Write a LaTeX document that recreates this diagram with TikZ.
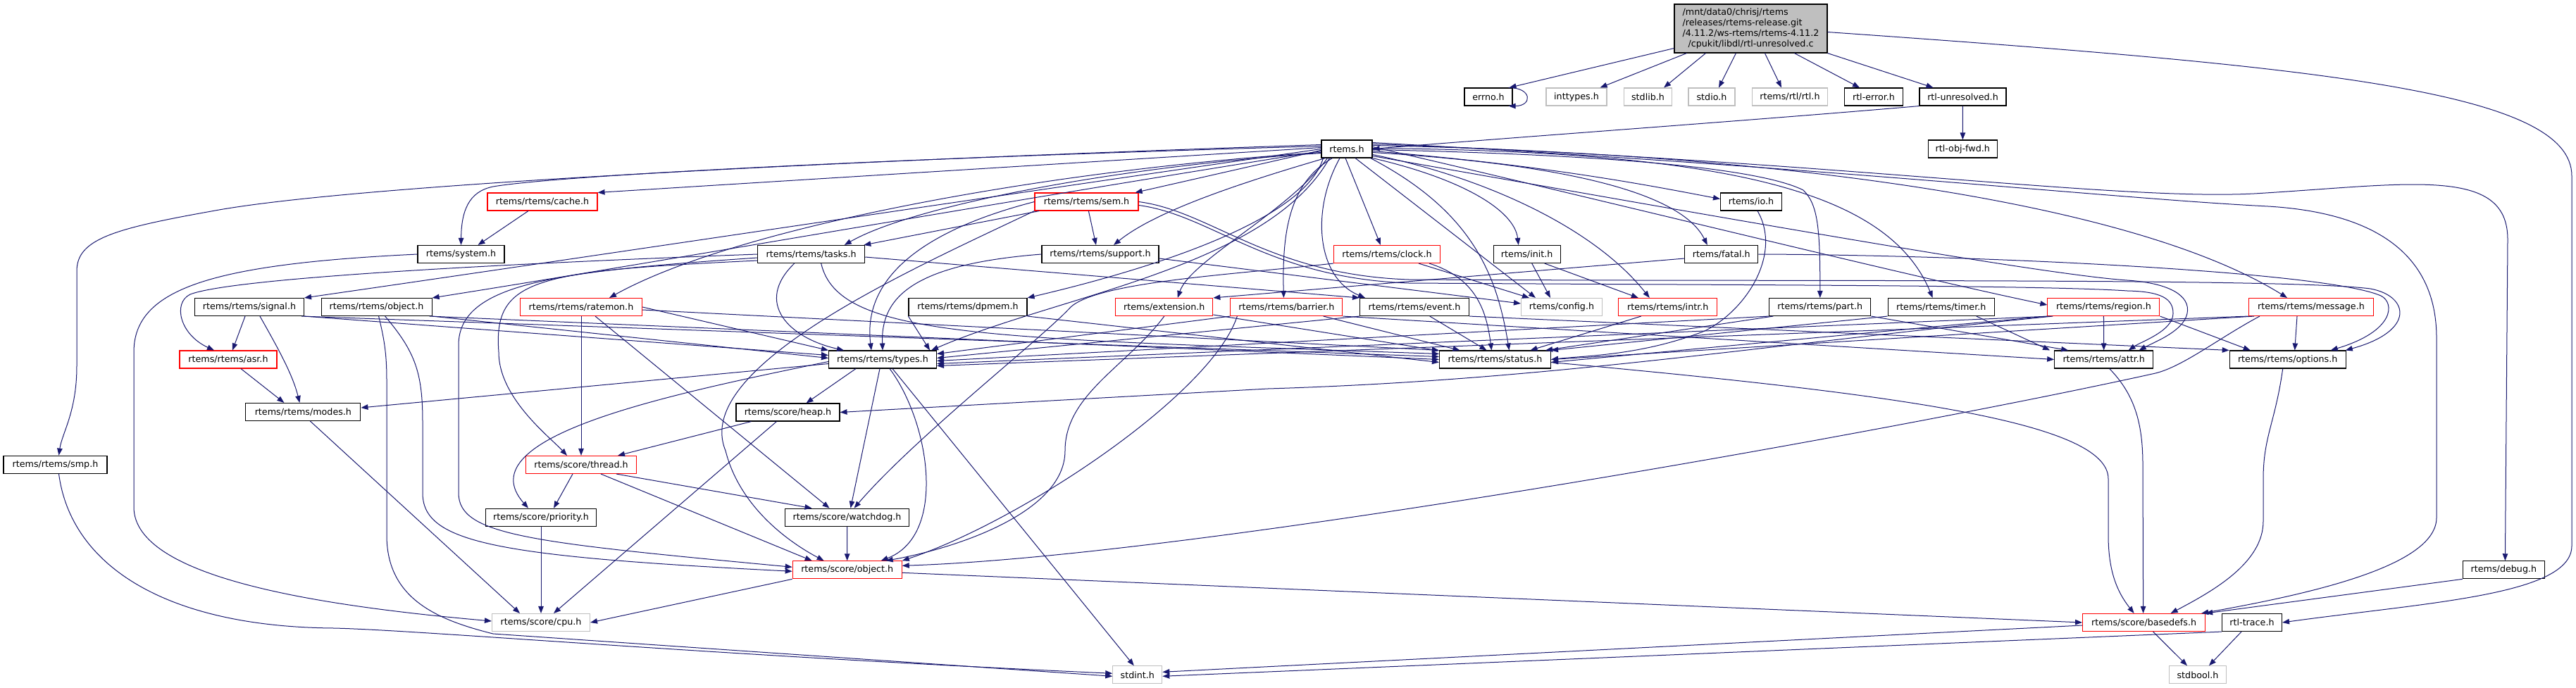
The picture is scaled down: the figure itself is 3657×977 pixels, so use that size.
\documentclass[tikz,border=0pt]{standalone}
\usepackage{fontspec}
\setmainfont{DejaVu Sans}
\usetikzlibrary{arrows.meta}
\definecolor{edgecol}{HTML}{191970}
\definecolor{boxgray}{HTML}{BFBFBF}
\newcommand\nodefont{\fontsize{12.7}{15}\selectfont}
\begin{document}
\begin{tikzpicture}[x=1pt,y=-1pt,
  nb/.style={draw, line width=1.1pt, minimum height=25pt, inner sep=0pt, font=\nodefont, text=black},
  blk/.style={nb, draw=black},
  rd/.style={nb, draw=red},
  gry/.style={nb, draw=boxgray},
  rootbox/.style={nb, draw=black, fill=boxgray, minimum height=69pt},
  edge/.style={draw=edgecol, line width=1pt, -{Triangle[length=10pt,width=7.5pt]}}]
\fill[white] (0,0) rectangle (3657,977);
\useasboundingbox (0,0) rectangle (3657,977);
% ---------------- nodes
\node[rootbox, minimum width=217pt] (root) at (2485.5,40.5) {\begin{tabular}{@{}l@{}}/mnt/data0/chrisj/rtems\\/releases/rtems-release.git\\/4.11.2/ws-rtems/rtems-4.11.2\\\multicolumn{1}{@{}c@{}}{/cpukit/libdl/rtl-unresolved.c}\end{tabular}};
\node[blk, minimum width=68pt] (errno) at (2113,137.5) {errno.h};
\node[gry, minimum width=86pt] (inttypes) at (2238,137.5) {inttypes.h};
\node[gry, minimum width=68pt] (stdlib) at (2339.5,137.5) {stdlib.h};
\node[gry, minimum width=66pt] (stdio) at (2430,137.5) {stdio.h};
\node[gry, minimum width=107pt] (rtl) at (2541,137.5) {rtems/rtl/rtl.h};
\node[blk, minimum width=83pt] (rtlerror) at (2660,137.5) {rtl-error.h};
\node[blk, minimum width=123pt] (rtlunres) at (2786.5,137.5) {rtl-unresolved.h};
\node[blk, minimum width=72pt] (rtems) at (1912,211.5) {rtems.h};
\node[blk, minimum width=98pt] (objfwd) at (2786.3,211.5) {rtl-obj-fwd.h};
\node[rd, minimum width=156pt] (cache) at (770,286.5) {rtems/rtems/cache.h};
\node[rd, minimum width=147pt] (sem) at (1542.5,286.5) {rtems/rtems/sem.h};
\node[blk, minimum width=87pt] (io) at (2486,286.5) {rtems/io.h};
\node[blk, minimum width=123pt] (system) at (654.5,361) {rtems/system.h};
\node[blk, minimum width=152pt] (tasks) at (1151.7,361) {rtems/rtems/tasks.h};
\node[blk, minimum width=166pt] (support) at (1562,361) {rtems/rtems/support.h};
\node[rd, minimum width=151pt] (clock) at (1969,361) {rtems/rtems/clock.h};
\node[blk, minimum width=95pt] (init) at (2167.7,361) {rtems/init.h};
\node[blk, minimum width=104pt] (fatal) at (2443.8,361) {rtems/fatal.h};
\node[blk, minimum width=155pt] (signal) at (354,436) {rtems/rtems/signal.h};
\node[blk, minimum width=157pt] (object) at (534.6,436) {rtems/rtems/object.h};
\node[rd, minimum width=173pt] (ratemon) at (825,436) {rtems/rtems/ratemon.h};
\node[blk, minimum width=168pt] (dpmem) at (1374,436) {rtems/rtems/dpmem.h};
\node[rd, minimum width=138pt] (extension) at (1652.8,436) {rtems/extension.h};
\node[rd, minimum width=159pt] (barrier) at (1826.4,436) {rtems/rtems/barrier.h};
\node[blk, minimum width=155pt] (event) at (2008,436) {rtems/rtems/event.h};
\node[gry, minimum width=115pt] (config) at (2217,436) {rtems/config.h};
\node[rd, minimum width=140pt] (intr) at (2367.8,436) {rtems/rtems/intr.h};
\node[blk, minimum width=144pt] (part) at (2583.8,436) {rtems/rtems/part.h};
\node[blk, minimum width=151pt] (timer) at (2755.7,436) {rtems/rtems/timer.h};
\node[rd, minimum width=159pt] (region) at (2986.4,436) {rtems/rtems/region.h};
\node[rd, minimum width=177pt] (message) at (3281,436) {rtems/rtems/message.h};
\node[rd, minimum width=138pt] (asr) at (324,510.5) {rtems/rtems/asr.h};
\node[blk, minimum width=153pt] (types) at (1253,510.5) {rtems/rtems/types.h};
\node[blk, minimum width=158pt] (status) at (2122.5,510.5) {rtems/rtems/status.h};
\node[blk, minimum width=140pt] (attr) at (2986.7,510.5) {rtems/rtems/attr.h};
\node[blk, minimum width=165pt] (options) at (3247.7,510.5) {rtems/rtems/options.h};
\node[blk, minimum width=163pt] (modes) at (430.4,585) {rtems/rtems/modes.h};
\node[blk, minimum width=147pt] (heap) at (1118.5,585.5) {rtems/score/heap.h};
\node[blk, minimum width=147pt] (smp) at (78.5,659.7) {rtems/rtems/smp.h};
\node[rd, minimum width=157pt] (thread) at (825,660) {rtems/score/thread.h};
\node[blk, minimum width=157pt] (priority) at (768,734.7) {rtems/score/priority.h};
\node[blk, minimum width=176pt] (watchdog) at (1202.5,734.7) {rtems/score/watchdog.h};
\node[rd, minimum width=155pt] (sobject) at (1202.7,809.3) {rtems/score/object.h};
\node[blk, minimum width=116pt] (debug) at (3554.4,809.3) {rtems/debug.h};
\node[gry, minimum width=139pt] (cpu) at (768,884) {rtems/score/cpu.h};
\node[rd, minimum width=174pt] (basedefs) at (3043.6,884) {rtems/score/basedefs.h};
\node[blk, minimum width=85pt] (rtltrace) at (3197,884) {rtl-trace.h};
\node[gry, minimum width=70pt] (stdint) at (1614.8,958.3) {stdint.h};
\node[gry, minimum width=81pt] (stdbool) at (3120,958.3) {stdbool.h};
% ---------------- root
\draw[edge] ([yshift=7pt]root.south west) -- ([xshift=-5pt]errno.north east);
\draw[edge] ([xshift=18pt]root.south west) -- ([xshift=-10pt]inttypes.north east);
\draw[edge] ([xshift=45pt]root.south west) -- ([xshift=-12pt]stdlib.north east);
\draw[edge] ([xshift=88pt]root.south west) -- ([xshift=10pt]stdio.north);
\draw[edge] ([xshift=129pt]root.south west) -- ([xshift=-12pt]rtl.north);
\draw[edge] ([xshift=171pt]root.south west) -- ([xshift=-20pt]rtlerror.north);
\draw[edge] (root.south east) -- ([xshift=-42pt]rtlunres.north);
\draw[edge] ([yshift=-5pt]root.east) .. controls (3300,95) and (3651,130) .. (3651,250) -- (3651,775) .. controls (3651,845) and (3450,855) .. (rtltrace.east);
\draw[edge] ([xshift=-6pt]errno.north east) .. controls +(34,0) and +(34,0) .. ([xshift=-6pt]errno.south east);
\draw[edge] (rtlunres.south west) .. controls (2500,170) and (2150,195) .. (rtems.east);
\draw[edge] (rtlunres) -- (objfwd);
% ---------------- rtems.h
\draw[edge] ([yshift=6pt]rtems.west) .. controls (1200,228) and (500,262) .. (300,300) .. controls (160,325) and (109,340) .. (109,385) -- (109,520) .. controls (109,585) and (88,615) .. ([xshift=5pt]smp.north);
\draw[edge] ([yshift=4pt]rtems.west) .. controls (1300,224) and (800,248) .. (700,265) .. controls (665,272) and (655,300) .. (system.north);
\draw[edge] ([yshift=2pt]rtems.west) -- (cache.north east);
\draw[edge] ([yshift=-2pt]rtems.west) -- ([xshift=-5pt]sem.north east);
\draw[edge] ([yshift=-6pt]rtems.west) .. controls (1600,235) and (1300,290) .. ([xshift=47pt]tasks.north);
\draw[edge] (rtems.west) .. controls (1400,280) and (800,370) .. (signal.north east);
\draw[edge] ([yshift=-3pt]rtems.west) .. controls (1400,290) and (900,378) .. (object.north east);
\draw[edge] ([yshift=-5pt]rtems.west) .. controls (1500,240) and (1050,320) .. ([xshift=40pt]ratemon.north);
\draw[edge] ([xshift=6pt]rtems.south west) .. controls (1760,260) and (1640,300) .. ([xshift=19pt]support.north);
\draw[edge] ([xshift=3pt]rtems.south west) .. controls (1850,320) and (1600,390) .. (dpmem.north east);
\draw[edge] ([xshift=9pt]rtems.south west) .. controls (1830,300) and (1690,370) .. ([xshift=19pt]extension.north);
\draw[edge] ([xshift=12pt]rtems.south west) .. controls (1800,380) and (1500,420) .. ([xshift=-8pt]types.north east);
\draw[edge] ([xshift=16pt]rtems.south west) .. controls (1830,260) and (1820,330) .. ([xshift=-4pt]barrier.north);
\draw[edge] ([xshift=-10pt]rtems.south) .. controls (1860,300) and (1870,395) .. ([xshift=-70pt]event.north);
\draw[edge] ([xshift=-2pt]rtems.south) -- ([xshift=-9pt]clock.north);
\draw[edge] ([xshift=12pt]rtems.south) -- ([xshift=-37pt]config.north);
\draw[edge] ([xshift=-3pt]rtems.south east) .. controls (2090,300) and (2125,390) .. ([xshift=20pt]status.north);
\draw[edge] (rtems.south east) .. controls (2080,255) and (2150,300) .. ([xshift=-12pt]init.north);
\draw[edge] ([yshift=-8pt]rtems.east) .. controls (2100,250) and (2260,320) .. ([xshift=-26pt]intr.north);
\draw[edge] ([yshift=-5pt]rtems.east) .. controls (2250,235) and (2390,280) .. ([xshift=-20pt]fatal.north);
\draw[edge] ([yshift=-3pt]rtems.east) .. controls (2200,235) and (2350,265) .. ([yshift=4pt]io.west);
\draw[edge] ([yshift=-1pt]rtems.east) .. controls (2300,220) and (2500,240) .. (2560,270) .. controls (2580,290) and (2584,320) .. (part.north);
\draw[edge] ([yshift=1pt]rtems.east) .. controls (2450,215) and (2680,270) .. ([xshift=-12pt]timer.north);
\draw[edge] ([yshift=3pt]rtems.east) .. controls (2300,290) and (2700,390) .. ([yshift=3pt]region.west);
\draw[edge] ([yshift=5pt]rtems.east) .. controls (2600,220) and (3050,300) .. ([xshift=-34pt]message.north);
\draw[edge] ([yshift=7pt]rtems.east) .. controls (2600,228) and (3000,285) .. (3200,275) .. controls (3420,262) and (3560,235) .. (3560,340) -- ([xshift=2pt]debug.north);
\draw[edge] ([yshift=9pt]rtems.east) .. controls (2600,238) and (3000,282) .. (3220,293) .. controls (3420,305) and (3459,400) .. (3459,480) -- (3459,735) .. controls (3459,800) and (3300,840) .. ([xshift=-6pt]basedefs.north east);
\draw[edge] ([yshift=-10pt]rtems.east) .. controls (2450,310) and (2900,390) .. (3020,398) .. controls (3080,402) and (3110,420) .. (3105,445) .. controls (3100,470) and (3060,485) .. ([xshift=50pt]attr.north);
% ---------------- sem.h
\draw[edge] (sem) -- ([xshift=-2pt]tasks.north east);
\draw[edge] (sem) -- ([xshift=-6pt]support.north);
\draw[edge] (sem.west) .. controls (1300,330) and (1225,400) .. ([xshift=-16pt]types.north);
\draw[edge] (sem.south west) .. controls (1300,380) and (980,520) .. (1030,640) .. controls (1050,720) and (1120,770) .. ([xshift=-33pt]sobject.north);
\draw[edge] (sem.east) .. controls (1720,300) and (1800,390) .. (2000,397) .. controls (2600,400) and (3250,395) .. (3365,410) .. controls (3420,420) and (3430,470) .. ([xshift=-1pt]options.north east);
\draw[edge] ([yshift=-5pt]sem.east) .. controls (1720,305) and (1800,395) .. (2000,402) .. controls (2500,405) and (2900,405) .. (3020,413) .. controls (3070,414) and (3085,425) .. (3085,445) .. controls (3085,470) and (3040,485) .. ([xshift=35pt]attr.north);
% ---------------- support, tasks, cache, system
\draw[edge] (support.west) .. controls (1300,375) and (1250,420) .. (types.north);
\draw[edge] ([yshift=-6pt]support.east) -- ([yshift=5pt]config.west);
\draw[edge] (tasks.west) .. controls (700,375) and (330,395) .. (270,418) .. controls (245,430) and (255,475) .. ([xshift=-20pt]asr.north);
\draw[edge] ([xshift=-24pt]tasks.south) .. controls (1070,430) and (1120,480) .. ([xshift=-55pt]types.north);
\draw[edge] ([xshift=14pt]tasks.south) .. controls (1190,480) and (1400,480) .. ([yshift=8pt]status.west);
\draw[edge] ([yshift=-5pt]tasks.west) .. controls (800,385) and (651,400) .. (651,490) -- (651,700) .. controls (651,760) and (750,770) .. ([yshift=4pt]sobject.west);
\draw[edge] ([yshift=-9pt]tasks.west) .. controls (760,385) and (700,395) .. (708,500) .. controls (708,565) and (780,620) .. ([xshift=-20pt]thread.north);
\draw[edge] ([yshift=-4pt]tasks.east) -- (event.north west);
\draw[edge] ([xshift=-20pt]cache.south) -- ([xshift=24pt]system.north);
\draw[edge] (system.west) .. controls (300,375) and (190,410) .. (190,500) -- (190,720) .. controls (190,820) and (450,860) .. ([yshift=2pt]cpu.west);
% ---------------- row 5
\draw[edge] ([xshift=-6pt]signal.south) -- ([xshift=6pt]asr.north);
\draw[edge] ([xshift=15pt]signal.south) .. controls (392,490) and (415,530) .. ([xshift=-5pt]modes.north);
\draw[edge] (signal.south east) -- ([yshift=6pt]types.west);
\draw[edge] ([xshift=-4pt]signal.south east) -- ([yshift=4pt]status.west);
\draw[edge] (object.south east) -- ([yshift=2pt]types.west);
\draw[edge] ([xshift=-4pt]object.south east) -- (status.west);
\draw[edge] ([xshift=12pt]object.south) .. controls (590,500) and (600,530) .. (600,600) -- (600,700) .. controls (600,770) and (700,790) .. ([yshift=-2pt]sobject.west);
\draw[edge] ([xshift=3pt]object.south) .. controls (545,480) and (549,500) .. (549,540) -- (549,760) .. controls (549,850) and (620,880) .. (700,900) -- ([yshift=-2pt]stdint.west);
\draw[edge] (ratemon) -- (thread);
\draw[edge] ([xshift=20pt]ratemon.south) -- ([xshift=-25pt]watchdog.north);
\draw[edge] (ratemon.east) -- (types.north west);
\draw[edge] ([yshift=-4pt]ratemon.east) -- (status.north west);
\draw[edge] (dpmem.south west) -- ([xshift=-10pt]types.north east);
\draw[edge] (dpmem.south east) -- ([yshift=-4pt]status.west);
\draw[edge] (extension) -- (status);
\draw[edge] (extension.south) .. controls (1600,520) and (1512,560) .. (1512,640) .. controls (1512,730) and (1350,780) .. ([xshift=55pt]sobject.north);
\draw[edge] (barrier.south west) -- ([yshift=8pt]types.east);
\draw[edge] (barrier) -- ([xshift=-50pt]status.north);
\draw[edge] (barrier.south east) -- (attr.west);
\draw[edge] ([xshift=10pt]barrier.south west) .. controls (1720,560) and (1450,740) .. (sobject.north east);
\draw[edge] (event.south west) -- ([yshift=2pt]types.east);
\draw[edge] (event) -- ([xshift=-12pt]status.north);
\draw[edge] (event.south east) -- (options.north west);
\draw[edge] ([xshift=45pt]clock.south) -- ([xshift=-46pt]config.north);
\draw[edge] ([xshift=60pt]clock.south) .. controls (2095,395) and (2110,440) .. ([xshift=-5pt]status.north);
\draw[edge] (clock.south west) .. controls (1750,390) and (1560,400) .. (1520,436) .. controls (1480,480) and (1300,620) .. ([xshift=10pt]watchdog.north);
\draw[edge] (init) -- ([xshift=-16pt]config.north);
\draw[edge] ([xshift=25pt]init.south) -- ([xshift=-42pt]intr.north);
\draw[edge] ([xshift=-38pt]intr.south) -- ([xshift=50pt]status.north);
\draw[edge] ([xshift=9pt]io.south) .. controls (2530,360) and (2480,440) .. (2420,470) .. controls (2330,505) and (2250,505) .. (status.east);
\draw[edge] ([yshift=-6pt]fatal.west) -- (extension.north east);
\draw[edge] (fatal.east) .. controls (2800,362) and (3300,385) .. (3380,420) .. controls (3400,430) and (3400,470) .. ([xshift=-22pt]options.north east);
\draw[edge] (part.south west) -- ([yshift=-2pt]types.east);
\draw[edge] ([xshift=6pt]part.south west) -- ([xshift=-8pt]status.north east);
\draw[edge] (part.south east) -- ([xshift=20pt]attr.north west);
\draw[edge] (timer.south west) -- (status.north east);
\draw[edge] ([xshift=50pt]timer.south) -- ([xshift=-6pt]attr.north west);
\draw[edge] (region) -- (attr);
\draw[edge] ([xshift=4pt]region.south west) -- ([yshift=-6pt]types.east);
\draw[edge] (region.south west) -- ([yshift=-4pt]status.east);
\draw[edge] (region.south east) -- ([xshift=30pt]options.north west);
\draw[edge] ([xshift=8pt]region.south west) .. controls (2500,490) and (2200,540) .. (1800,552) -- (heap.east);
\draw[edge] ([xshift=-20pt]message.south) -- ([xshift=10pt]options.north);
\draw[edge] (message.south west) -- ([yshift=-9pt]types.east);
\draw[edge] ([xshift=8pt]message.south west) -- (status.east);
\draw[edge] ([xshift=16pt]message.south west) .. controls (3150,480) and (3100,520) .. (3060,530) .. controls (2700,610) and (1700,790) .. ([yshift=6pt]sobject.east);
% ---------------- lower part
\draw[edge] ([xshift=18pt]asr.south) -- ([xshift=-27pt]modes.north);
\draw[edge] ([yshift=-6pt]types.west) -- ([yshift=6pt]modes.east);
\draw[edge] ([xshift=-38pt]types.south) -- ([xshift=26pt]heap.north);
\draw[edge] ([yshift=-3pt]types.west) .. controls (950,560) and (660,620) .. ([xshift=-18pt]priority.north);
\draw[edge] ([xshift=-4pt]types.south) -- ([xshift=5pt]watchdog.north);
\draw[edge] ([xshift=10pt]types.south) .. controls (1320,600) and (1345,760) .. ([xshift=48pt]sobject.north);
\draw[edge] ([xshift=14pt]types.south) -- ([xshift=-5pt]stdint.north);
\draw[edge] ([yshift=-4pt]status.east) .. controls (2700,560) and (2993,600) .. (2993,680) -- (2993,760) .. controls (2993,810) and (3005,840) .. ([xshift=-14pt]basedefs.north);
\draw[edge] ([xshift=8pt]attr.south) .. controls (3030,560) and (3042,600) .. (3042,660) -- ([xshift=-1pt]basedefs.north);
\draw[edge] ([xshift=-7pt]options.south) .. controls (3230,600) and (3213,620) .. (3213,680) -- (3213,740) .. controls (3213,800) and (3140,840) .. ([xshift=38pt]basedefs.north);
\draw[edge] ([xshift=10pt]modes.south) -- ([xshift=-30pt]cpu.north);
\draw[edge] ([xshift=-52pt]heap.south) -- ([xshift=52pt]thread.north);
\draw[edge] ([xshift=-16pt]heap.south) -- ([xshift=18pt]cpu.north);
\draw[edge] ([xshift=-12pt]thread.south) -- ([xshift=18pt]priority.north);
\draw[edge] ([xshift=50pt]thread.south) -- ([xshift=-50pt]watchdog.north);
\draw[edge] ([xshift=28pt]thread.south) -- ([xshift=-50pt]sobject.north);
\draw[edge] (priority) -- (cpu);
\draw[edge] (watchdog) -- (sobject);
\draw[edge] (sobject.south west) -- (cpu.east);
\draw[edge] ([yshift=-4pt]sobject.east) -- (basedefs.west);
\draw[edge] (debug.south west) -- (basedefs.north east);
\draw[edge] (rtltrace.south west) -- ([yshift=-2pt]stdint.east);
\draw[edge] ([xshift=-15pt]rtltrace.south) -- ([xshift=16pt]stdbool.north);
\draw[edge] ([yshift=-4pt]basedefs.west) -- ([yshift=4pt]stdint.east);
\draw[edge] ([xshift=13pt]basedefs.south) -- ([xshift=-15pt]stdbool.north);
\draw[edge] ([xshift=5pt]smp.south) .. controls (100,800) and (230,890) .. (474,892) .. controls (600,895) and (1000,930) .. ([yshift=2pt]stdint.west);
\end{tikzpicture}
\end{document}
